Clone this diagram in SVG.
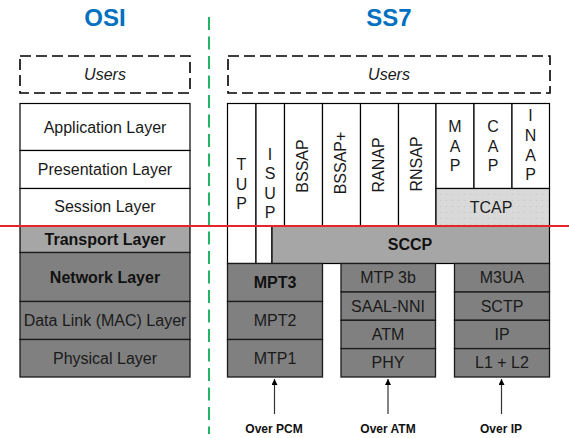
<svg xmlns="http://www.w3.org/2000/svg" width="569" height="438" viewBox="0 0 569 438">
<defs>
<style>
.t{font-family:"Liberation Sans",Arial,sans-serif;font-size:16px;fill:#1a1a1a;text-anchor:middle}
.b{font-weight:bold;fill:#111}
.title{font-family:"Liberation Sans",Arial,sans-serif;font-size:24px;font-weight:bold;fill:#0070C0;text-anchor:middle}
.lbl{font-family:"Liberation Sans",Arial,sans-serif;font-size:12px;font-weight:bold;fill:#111;text-anchor:middle}
.w{fill:#fff;stroke:#000;stroke-width:1.2}
.g1{fill:#a6a6a6;stroke:#000;stroke-width:1.2}
.g2{fill:#808080;stroke:#1a1a1a;stroke-width:1.3}
.users{fill:none;stroke:#000;stroke-width:1.6;stroke-dasharray:11 5}
.arr{stroke:#333;stroke-width:1.2;fill:none;marker-end:url(#ah)}
</style>
<marker id="ah" viewBox="0 0 10 10" refX="10" refY="5" markerWidth="6" markerHeight="6" markerUnits="userSpaceOnUse" orient="auto">
<path d="M0,0 L10,5 L0,10 z" fill="#000"/>
</marker>
<pattern id="dots" width="6" height="6" patternUnits="userSpaceOnUse">
<rect width="6" height="6" fill="#d9d9d9"/>
<rect x="2" y="2" width="1" height="1" fill="#c4c4c4"/>
</pattern>
</defs>
<rect width="569" height="438" fill="#fff"/>

<text class="title" x="105" y="26">OSI</text>
<text class="title" x="389" y="26">SS7</text>

<line x1="209" y1="17" x2="209" y2="434" stroke="#22b566" stroke-width="2" stroke-dasharray="13 6.5"/>

<g id="osi-users"><rect class="users" x="20" y="56" width="170" height="37"/><text class="t" x="105" y="80" font-style="italic">Users</text></g>
<g id="ss7-users"><rect class="users" x="228" y="56" width="322" height="37"/><text class="t" x="389" y="80" font-style="italic">Users</text></g>

<g id="osi-application"><rect class="w" x="20" y="103.5" width="170" height="47"/><text class="t" x="105" y="132.5">Application Layer</text></g>
<g id="osi-presentation"><rect class="w" x="20" y="150.5" width="170" height="38"/><text class="t" x="105" y="175">Presentation Layer</text></g>
<g id="osi-session"><rect class="w" x="20" y="188.5" width="170" height="37.5"/><text class="t" x="105" y="212">Session Layer</text></g>
<g id="osi-transport"><rect class="g1" x="20" y="226" width="170" height="26.5"/><text class="t b" x="105" y="244.5">Transport Layer</text></g>
<g id="osi-network"><rect class="g2" x="20" y="252.5" width="170" height="49"/><text class="t b" x="105" y="282.5">Network Layer</text></g>
<g id="osi-datalink"><rect class="g2" x="20" y="301.5" width="170" height="38"/><text class="t" x="105" y="325.5">Data Link (MAC) Layer</text></g>
<g id="osi-physical"><rect class="g2" x="20" y="339.5" width="170" height="37.5"/><text class="t" x="105" y="363.5">Physical Layer</text></g>

<g id="tup"><rect class="w" x="227.5" y="103.5" width="28.5" height="160"/>
<text class="t" x="241.5" y="170">T</text><text class="t" x="241.5" y="189.5">U</text><text class="t" x="241.5" y="209">P</text></g>
<g id="isup"><rect class="w" x="256" y="103.5" width="28.5" height="122.5"/><rect class="w" x="256" y="226" width="16" height="37.5"/>
<text class="t" x="270" y="159.5">I</text><text class="t" x="270" y="179">S</text><text class="t" x="270" y="198.5">U</text><text class="t" x="270" y="218">P</text></g>
<g id="bssap"><rect class="w" x="284.5" y="103.5" width="38" height="122.5"/><text class="t" transform="translate(308,166) rotate(-90)">BSSAP</text></g>
<g id="bssap-plus"><rect class="w" x="322.5" y="103.5" width="38" height="122.5"/><text class="t" transform="translate(346,163) rotate(-90)">BSSAP+</text></g>
<g id="ranap"><rect class="w" x="360.5" y="103.5" width="38" height="122.5"/><text class="t" transform="translate(384,165) rotate(-90)">RANAP</text></g>
<g id="rnsap"><rect class="w" x="398.5" y="103.5" width="37.5" height="122.5"/><text class="t" transform="translate(421.5,164) rotate(-90)">RNSAP</text></g>
<g id="map"><rect class="w" x="436" y="103.5" width="38" height="85"/>
<text class="t" x="455" y="132">M</text><text class="t" x="455" y="151.5">A</text><text class="t" x="455" y="170.5">P</text></g>
<g id="cap"><rect class="w" x="474" y="103.5" width="38" height="85"/>
<text class="t" x="493" y="132">C</text><text class="t" x="493" y="151.5">A</text><text class="t" x="493" y="170.5">P</text></g>
<g id="inap"><rect class="w" x="512" y="103.5" width="37.5" height="85"/>
<text class="t" x="530.5" y="121">I</text><text class="t" x="530.5" y="140.5">N</text><text class="t" x="530.5" y="160.5">A</text><text class="t" x="530.5" y="180">P</text></g>
<g id="tcap"><rect x="436" y="188.5" width="113.5" height="37.5" fill="url(#dots)" stroke="#000" stroke-width="1.2"/><text class="t" x="491" y="213">TCAP</text></g>
<g id="sccp"><rect class="g1" x="272" y="226" width="277.5" height="37.5"/><text class="t b" x="410" y="250">SCCP</text></g>

<g id="mtp3"><rect class="g2" x="227.5" y="263.5" width="95" height="38"/><text class="t b" x="275" y="287.5">MPT3</text></g>
<g id="mtp2"><rect class="g2" x="227.5" y="301.5" width="95" height="38"/><text class="t" x="275" y="325.5">MPT2</text></g>
<g id="mtp1"><rect class="g2" x="227.5" y="339.5" width="95" height="37.5"/><text class="t" x="275" y="363.5">MTP1</text></g>

<g id="mtp3b"><rect class="g2" x="341" y="263.5" width="94.5" height="28.5"/><text class="t" x="388" y="283">MTP 3b</text></g>
<g id="saal-nni"><rect class="g2" x="341" y="292" width="94.5" height="28.3"/><text class="t" x="388" y="311.5">SAAL-NNI</text></g>
<g id="atm"><rect class="g2" x="341" y="320.3" width="94.5" height="28.3"/><text class="t" x="388" y="340">ATM</text></g>
<g id="phy"><rect class="g2" x="341" y="348.6" width="94.5" height="28.4"/><text class="t" x="388" y="368">PHY</text></g>

<g id="m3ua"><rect class="g2" x="454.5" y="263.5" width="95" height="28.5"/><text class="t" x="502" y="283">M3UA</text></g>
<g id="sctp"><rect class="g2" x="454.5" y="292" width="95" height="28.3"/><text class="t" x="502" y="311.5">SCTP</text></g>
<g id="ip"><rect class="g2" x="454.5" y="320.3" width="95" height="28.3"/><text class="t" x="502" y="340">IP</text></g>
<g id="l1l2"><rect class="g2" x="454.5" y="348.6" width="95" height="28.4"/><text class="t" x="502" y="368">L1 + L2</text></g>

<line x1="0" y1="226" x2="569" y2="226" stroke="#e8232a" stroke-width="1.8"/>

<g id="connectors">
<line class="arr" x1="274.5" y1="414" x2="274.5" y2="379"/>
<line class="arr" x1="388" y1="414" x2="388" y2="379"/>
<line class="arr" x1="501.5" y1="414" x2="501.5" y2="379"/>
</g>

<text class="lbl" x="274" y="433">Over PCM</text>
<text class="lbl" x="388" y="433">Over ATM</text>
<text class="lbl" x="501" y="433">Over IP</text>
</svg>
